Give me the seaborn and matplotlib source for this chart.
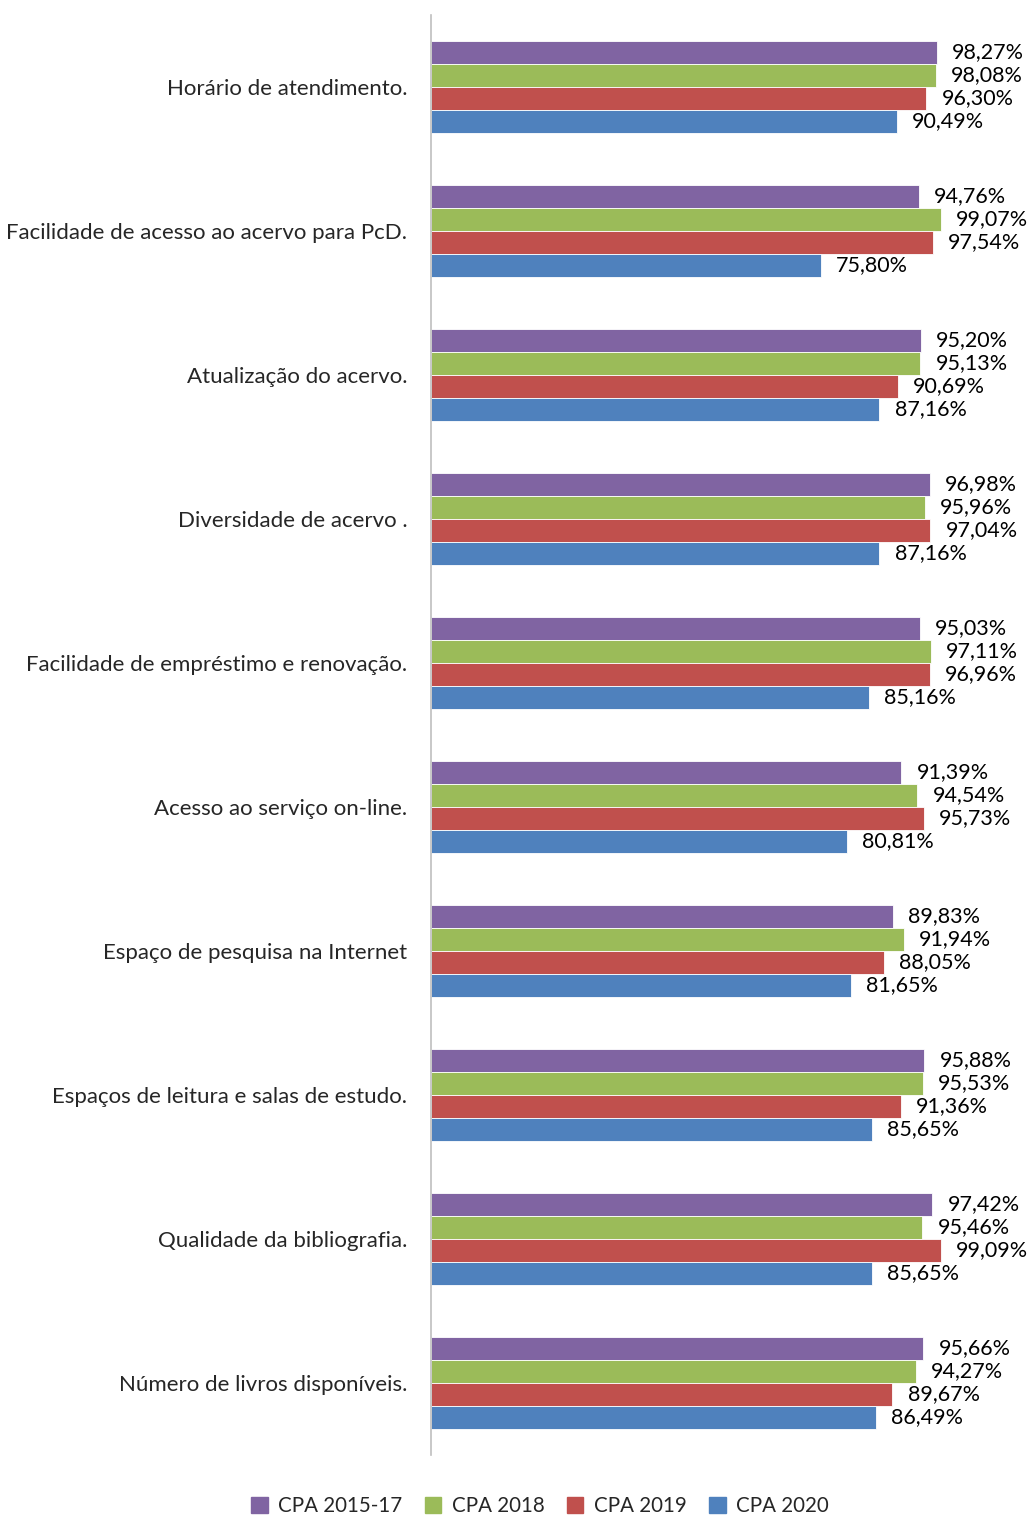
import pandas as pd
import numpy as np
import matplotlib.pyplot as plt
import seaborn as sns

# dados
categorias = [
    'Horário de atendimento.',
    'Facilidade de acesso ao acervo para PcD.',
    'Atualização do acervo.',
    'Diversidade de acervo .',
    'Facilidade de empréstimo e renovação.',
    'Acesso ao serviço on-line.',
    'Espaço de pesquisa na Internet',
    'Espaços de leitura e salas de estudo.',
    'Qualidade da bibliografia.',
    'Número de livros disponíveis.',
]
series = ['CPA 2015-17', 'CPA 2018', 'CPA 2019', 'CPA 2020']
cpa_2015_17 = [98.27, 94.76, 95.20, 96.98, 95.03, 91.39, 89.83, 95.88, 97.42, 95.66]
cpa_2018 = [98.08, 99.07, 95.13, 95.96, 97.11, 94.54, 91.94, 95.53, 95.46, 94.27]
cpa_2019 = [96.30, 97.54, 90.69, 97.04, 96.96, 95.73, 88.05, 91.36, 99.09, 89.67]
cpa_2020 = [90.49, 75.80, 87.16, 87.16, 85.16, 80.81, 81.65, 85.65, 85.65, 86.49]
cores = ['#8064A2', '#9BBB59', '#C0504D', '#4F81BD']

linhas = []
for serie, valores in zip(series, [cpa_2015_17, cpa_2018, cpa_2019, cpa_2020]):
    for cat, v in zip(categorias, valores):
        linhas.append({'Item': cat, 'Valor': v, 'Serie': serie})
df = pd.DataFrame(linhas)

sns.set_style('white')
plt.rcParams['font.family'] = ['Lato', 'DejaVu Sans']

fig = plt.figure(figsize=(10.33, 15.15), dpi=100)
ax = fig.add_axes([431 / 1033, 1 - 1455 / 1515, 602 / 1033, 1440 / 1515])

sns.barplot(data=df, y='Item', x='Valor', hue='Serie', order=categorias,
            hue_order=series, palette=cores, orient='h', width=0.64,
            gap=0, saturation=1, edgecolor='white', linewidth=0.6, ax=ax)

# rótulos de valor
for cont in ax.containers:
    rotulos = [f'{b.get_width():.2f}'.replace('.', ',') + '%' for b in cont]
    ax.bar_label(cont, labels=rotulos, padding=11, fontsize=15.5, color='black')

ax.set_xlim(0, 117)
ax.set_ylim(9.5, -0.5)
ax.set_xlabel('')
ax.set_ylabel('')
ax.set_xticks([])
ax.tick_params(axis='y', length=0, pad=17, labelsize=16)
for s in ['top', 'right', 'bottom']:
    ax.spines[s].set_visible(False)
ax.spines['left'].set_color('#BFBFBF')
ax.spines['left'].set_linewidth(1.2)

ax.legend_.remove()
handles = [plt.Rectangle((0, 0), 1, 1, color=c) for c in cores]
fig.legend(handles, series, loc='center', bbox_to_anchor=(540 / 1033, 1 - 1506 / 1515),
           ncol=4, frameon=False, fontsize=14.8, handlelength=0.8, handleheight=0.8,
           handletextpad=0.5, columnspacing=1.1)

fig.savefig('out.png', dpi=100)
